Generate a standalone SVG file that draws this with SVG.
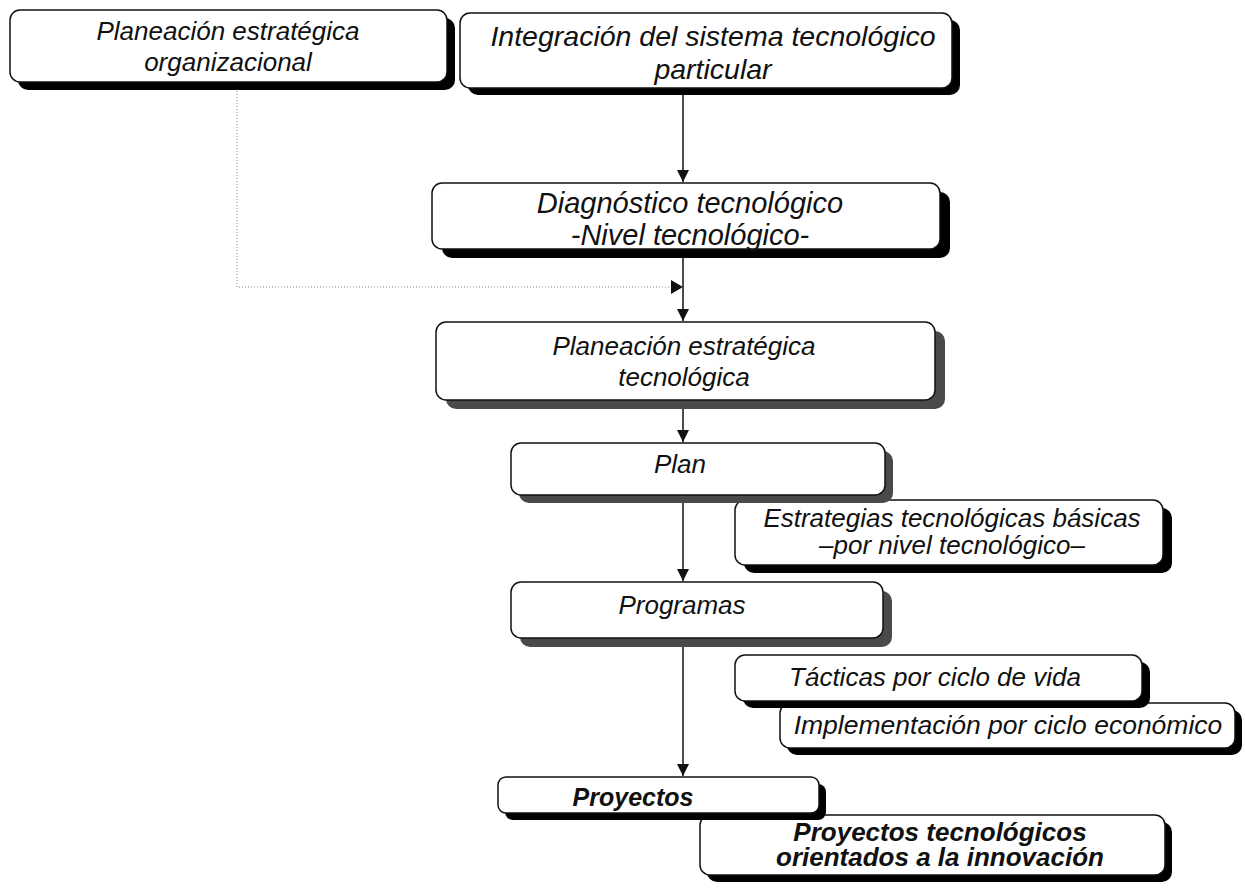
<svg xmlns="http://www.w3.org/2000/svg" width="1245" height="888" viewBox="0 0 1245 888">
  <defs>
    <style>
      .box { fill: #fff; stroke: #111; stroke-width: 1.5; }
      .sh { fill: #000; }
      .shg { fill: #4a4a4a; }
      .t { font-family: "Liberation Sans", Arial, sans-serif; font-style: italic; font-size: 26px; fill: #111; text-anchor: middle; }
      .b { font-weight: bold; }
      .conn { stroke: #111; stroke-width: 1.5; fill: none; }
      .dot { stroke: #888; stroke-width: 1; stroke-dasharray: 1 2; fill: none; }
    </style>
    <marker id="arr" viewBox="0 0 10 10" refX="10" refY="5" markerWidth="12" markerHeight="12" markerUnits="userSpaceOnUse" orient="auto">
      <path d="M0,0 L10,5 L0,10 Z" fill="#111"/>
    </marker>
  </defs>

  <g id="connectors">
    <line class="conn" x1="683" y1="95" x2="683" y2="182" marker-end="url(#arr)"/>
    <polyline class="dot" points="237,88 237,287 672,287"/>
    <path d="M671,280 L683,287 L671,294 Z" fill="#111"/>
    <line class="conn" x1="683" y1="256" x2="683" y2="321" marker-end="url(#arr)"/>
    <line class="conn" x1="683" y1="408" x2="683" y2="442" marker-end="url(#arr)"/>
    <line class="conn" x1="683" y1="501" x2="683" y2="581" marker-end="url(#arr)"/>
    <line class="conn" x1="683" y1="646" x2="683" y2="776" marker-end="url(#arr)"/>
  </g>

  <g id="n-organizacional">
    <rect class="sh" x="18" y="18" width="437" height="72" rx="10"/>
    <rect class="box" x="10" y="10" width="437" height="72" rx="10"/>
    <text class="t" x="228" y="40">Planeación estratégica</text>
    <text class="t" x="228" y="71">organizacional</text>
  </g>

  <g id="n-integracion">
    <rect class="sh" x="468" y="20" width="492" height="75" rx="10"/>
    <rect class="box" x="460" y="13" width="492" height="75" rx="10"/>
    <text class="t" style="font-size:28.5px" x="713" y="46">Integración del sistema tecnológico</text>
    <text class="t" style="font-size:28.5px" x="713" y="79">particular</text>
  </g>

  <g id="n-diagnostico">
    <rect class="sh" x="442" y="192" width="508" height="66" rx="10"/>
    <rect class="box" x="432" y="183" width="508" height="66" rx="10"/>
    <text class="t" style="font-size:29px" x="690" y="213">Diagnóstico tecnológico</text>
    <text class="t" style="font-size:29px" x="690" y="245">-Nivel tecnológico-</text>
  </g>

  <g id="n-planeacion-tec">
    <rect class="shg" x="446" y="331" width="499" height="78" rx="10"/>
    <rect class="box" x="436" y="322" width="499" height="78" rx="10"/>
    <text class="t" x="684" y="355">Planeación estratégica</text>
    <text class="t" x="684" y="386">tecnológica</text>
  </g>

  <g id="n-estrategias">
    <rect class="sh" x="744" y="508" width="428" height="65" rx="10"/>
    <rect class="box" x="735" y="500" width="428" height="65" rx="10"/>
    <text class="t" x="952" y="527">Estrategias tecnológicas básicas</text>
    <text class="t" x="952" y="554">–por nivel tecnológico–</text>
  </g>

  <g id="n-plan">
    <rect class="shg" x="519" y="451" width="374" height="52" rx="10"/>
    <rect class="box" x="511" y="443" width="374" height="52" rx="10"/>
    <text class="t" x="680" y="473">Plan</text>
  </g>

  <g id="n-implementacion">
    <rect class="sh" x="787" y="710" width="455" height="45" rx="10"/>
    <rect class="box" x="780" y="703" width="455" height="45" rx="10"/>
    <text class="t" style="font-size:26.5px" x="1008" y="734">Implementación por ciclo económico</text>
  </g>

  <g id="n-tacticas">
    <rect class="sh" x="743" y="662" width="407" height="46" rx="10"/>
    <rect class="box" x="735" y="655" width="407" height="46" rx="10"/>
    <text class="t" x="935" y="686">Tácticas por ciclo de vida</text>
  </g>

  <g id="n-programas">
    <rect class="shg" x="520" y="591" width="372" height="56" rx="10"/>
    <rect class="box" x="511" y="582" width="372" height="56" rx="10"/>
    <text class="t" x="682" y="614">Programas</text>
  </g>

  <g id="n-innovacion">
    <rect class="sh" x="707" y="822" width="465" height="60" rx="10"/>
    <rect class="box" x="700" y="815" width="465" height="60" rx="10"/>
    <text class="t b" x="940" y="841">Proyectos tecnológicos</text>
    <text class="t b" x="940" y="866">orientados a la innovación</text>
  </g>

  <g id="n-proyectos">
    <rect class="sh" x="505" y="784" width="321" height="36" rx="8"/>
    <rect class="box" x="498" y="777" width="321" height="36" rx="8"/>
    <text class="t b" style="font-size:25px" x="633" y="806">Proyectos</text>
  </g>
</svg>
